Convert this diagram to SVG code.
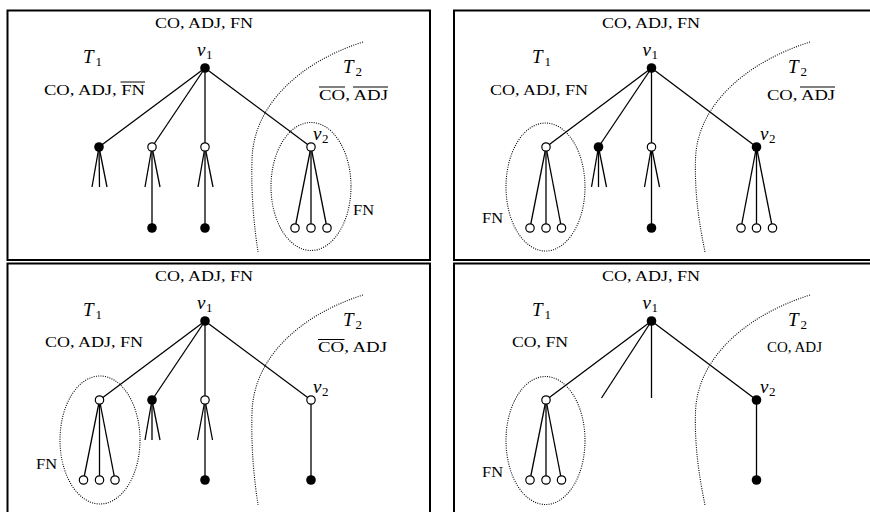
<svg xmlns="http://www.w3.org/2000/svg" width="870" height="512" viewBox="0 0 870 512">
<style>
.frame{fill:none;stroke:#000;stroke-width:2}
.e{stroke:#000;stroke-width:1.3;fill:none}
.dot{fill:none;stroke:#000;stroke-width:1.1;stroke-dasharray:1 1.3}
.f{fill:#000}
.o{fill:#fff;stroke:#000;stroke-width:1.2}
.lbl{font-family:"Liberation Serif",serif;font-size:14px;fill:#000}
.m{font-family:"Liberation Serif",serif;font-size:19px;font-style:italic;fill:#000}
.sub{font-size:13px;font-style:normal}
.ov{stroke:#000;stroke-width:1}
</style>
<rect x="0" y="0" width="870" height="512" fill="#fff"/>

<!-- Panel 1 -->
<g id="panel1">
<rect class="frame" x="7.5" y="10.5" width="422.5" height="249.5"/>
<g id="p1-connectors">
<path class="dot" d="M363,42 C300,62 253,105 252,160 C251,195 254,225 258,252"/>
<ellipse class="dot" cx="311" cy="186.5" rx="40" ry="64"/>
<line class="e" x1="205" y1="68" x2="99" y2="147"/>
<line class="e" x1="205" y1="68" x2="152" y2="147"/>
<line class="e" x1="205" y1="68" x2="205" y2="147"/>
<line class="e" x1="205" y1="68" x2="311" y2="147"/>
<line class="e" x1="99" y1="147" x2="92" y2="187"/>
<line class="e" x1="99" y1="147" x2="99.5" y2="187"/>
<line class="e" x1="99" y1="147" x2="107" y2="187"/>
<line class="e" x1="152" y1="147" x2="145" y2="187"/>
<line class="e" x1="152" y1="147" x2="160" y2="187"/>
<line class="e" x1="152" y1="147" x2="152" y2="228"/>
<line class="e" x1="205" y1="147" x2="198" y2="187"/>
<line class="e" x1="205" y1="147" x2="213" y2="187"/>
<line class="e" x1="205" y1="147" x2="205" y2="228"/>
<line class="e" x1="311" y1="147" x2="295" y2="228"/>
<line class="e" x1="311" y1="147" x2="311" y2="228"/>
<line class="e" x1="311" y1="147" x2="327" y2="228"/>
</g>
<g id="p1-v1"><circle class="f" cx="205" cy="68" r="4.8"/><text class="m" x="197" y="56">v<tspan class="sub" dx="0.5" dy="3">1</tspan></text></g>
<g id="p1-c1"><circle class="f" cx="99" cy="147" r="4.8"/></g>
<g id="p1-c2"><circle class="o" cx="152" cy="147" r="4.2"/></g>
<g id="p1-c3"><circle class="o" cx="205" cy="147" r="4.2"/></g>
<g id="p1-v2"><circle class="o" cx="311" cy="147" r="4.2"/><text class="m" x="313" y="140">v<tspan class="sub" dx="0.5" dy="3">2</tspan></text></g>
<g id="p1-l1"><circle class="f" cx="152" cy="228" r="4.8"/></g>
<g id="p1-l2"><circle class="f" cx="205" cy="228" r="4.8"/></g>
<g id="p1-l3"><circle class="o" cx="295" cy="228" r="4.2"/></g>
<g id="p1-l4"><circle class="o" cx="311" cy="228" r="4.2"/></g>
<g id="p1-l5"><circle class="o" cx="327" cy="228" r="4.2"/></g>
<g id="p1-labels">
<text class="lbl" x="155" y="28" textLength="98" lengthAdjust="spacingAndGlyphs">CO, ADJ, FN</text>
<text class="m" x="83" y="63">T<tspan class="sub" dx="2" dy="3">1</tspan></text>
<text class="lbl" x="44" y="94.5" textLength="101" lengthAdjust="spacingAndGlyphs">CO, ADJ, FN</text>
<line class="ov" x1="120.5" y1="82" x2="145" y2="82"/>
<text class="m" x="343" y="73">T<tspan class="sub" dx="2" dy="3">2</tspan></text>
<text class="lbl" x="319" y="99.5" textLength="69" lengthAdjust="spacingAndGlyphs">CO, ADJ</text>
<line class="ov" x1="319" y1="87" x2="345" y2="87"/>
<line class="ov" x1="353" y1="87" x2="388" y2="87"/>
<text class="lbl" x="353" y="215" textLength="21" lengthAdjust="spacingAndGlyphs">FN</text>
</g>
</g>

<!-- Panel 2 -->
<g id="panel2" transform="translate(446.5,0)">
<rect class="frame" x="7.5" y="10.5" width="440" height="249.5"/>
<g id="p2-connectors">
<path class="dot" d="M363.5,42 C300,62 250,105 249,160 C248,195 253,225 258.5,252"/>
<ellipse class="dot" cx="99" cy="187" rx="39.5" ry="64"/>
<line class="e" x1="205" y1="68" x2="99.5" y2="147"/>
<line class="e" x1="205" y1="68" x2="152" y2="147"/>
<line class="e" x1="205" y1="68" x2="205" y2="147"/>
<line class="e" x1="205" y1="68" x2="310" y2="147"/>
<line class="e" x1="99.5" y1="147" x2="83.5" y2="228"/>
<line class="e" x1="99.5" y1="147" x2="99.5" y2="228"/>
<line class="e" x1="99.5" y1="147" x2="115" y2="228"/>
<line class="e" x1="152" y1="147" x2="145" y2="187"/>
<line class="e" x1="152" y1="147" x2="152" y2="187"/>
<line class="e" x1="152" y1="147" x2="160" y2="187"/>
<line class="e" x1="205" y1="147" x2="198" y2="187"/>
<line class="e" x1="205" y1="147" x2="213" y2="187"/>
<line class="e" x1="205" y1="147" x2="205" y2="228"/>
<line class="e" x1="310" y1="147" x2="294.5" y2="228"/>
<line class="e" x1="310" y1="147" x2="310" y2="228"/>
<line class="e" x1="310" y1="147" x2="326" y2="228"/>
</g>
<g id="p2-v1"><circle class="f" cx="205" cy="68" r="4.8"/><text class="m" x="196" y="56">v<tspan class="sub" dx="0.5" dy="3">1</tspan></text></g>
<g id="p2-c1"><circle class="o" cx="99.5" cy="147" r="4.2"/></g>
<g id="p2-c2"><circle class="f" cx="152" cy="147" r="4.8"/></g>
<g id="p2-c3"><circle class="o" cx="205" cy="147" r="4.2"/></g>
<g id="p2-v2"><circle class="f" cx="310" cy="147" r="4.8"/><text class="m" x="313.5" y="140">v<tspan class="sub" dx="0.5" dy="3">2</tspan></text></g>
<g id="p2-l1"><circle class="o" cx="83.5" cy="228" r="4.2"/></g>
<g id="p2-l2"><circle class="o" cx="99.5" cy="228" r="4.2"/></g>
<g id="p2-l3"><circle class="o" cx="115" cy="228" r="4.2"/></g>
<g id="p2-l4"><circle class="f" cx="205" cy="228" r="4.8"/></g>
<g id="p2-l5"><circle class="o" cx="294.5" cy="228" r="4.2"/></g>
<g id="p2-l6"><circle class="o" cx="310" cy="228" r="4.2"/></g>
<g id="p2-l7"><circle class="o" cx="326" cy="228" r="4.2"/></g>
<g id="p2-labels">
<text class="lbl" x="155.5" y="28" textLength="98" lengthAdjust="spacingAndGlyphs">CO, ADJ, FN</text>
<text class="m" x="85.5" y="63">T<tspan class="sub" dx="2" dy="3">1</tspan></text>
<text class="lbl" x="43.5" y="94.5" textLength="98" lengthAdjust="spacingAndGlyphs">CO, ADJ, FN</text>
<text class="m" x="341.5" y="73">T<tspan class="sub" dx="2" dy="3">2</tspan></text>
<text class="lbl" x="320.5" y="99.5" textLength="68" lengthAdjust="spacingAndGlyphs">CO, ADJ</text>
<line class="ov" x1="353.5" y1="87" x2="388.5" y2="87"/>
<text class="lbl" x="35.5" y="223" textLength="21" lengthAdjust="spacingAndGlyphs">FN</text>
</g>
</g>

<!-- Panel 3 -->
<g id="panel3" transform="translate(0,253)">
<rect class="frame" x="7.5" y="10.5" width="422.5" height="260"/>
<g id="p3-connectors">
<path class="dot" d="M363,42 C300,62 253,105 252,160 C251,195 254,225 258,252"/>
<ellipse class="dot" cx="100" cy="187" rx="40" ry="64"/>
<line class="e" x1="205" y1="68" x2="99.5" y2="147"/>
<line class="e" x1="205" y1="68" x2="152" y2="147"/>
<line class="e" x1="205" y1="68" x2="205" y2="147"/>
<line class="e" x1="205" y1="68" x2="311" y2="147"/>
<line class="e" x1="99.5" y1="147" x2="83.5" y2="227"/>
<line class="e" x1="99.5" y1="147" x2="99.5" y2="227"/>
<line class="e" x1="99.5" y1="147" x2="115" y2="227"/>
<line class="e" x1="152" y1="147" x2="145" y2="187"/>
<line class="e" x1="152" y1="147" x2="152" y2="187"/>
<line class="e" x1="152" y1="147" x2="160" y2="187"/>
<line class="e" x1="205" y1="147" x2="197.5" y2="187"/>
<line class="e" x1="205" y1="147" x2="212.5" y2="187"/>
<line class="e" x1="205" y1="147" x2="205" y2="227"/>
<line class="e" x1="311" y1="147" x2="311" y2="227"/>
</g>
<g id="p3-v1"><circle class="f" cx="205" cy="68" r="4.8"/><text class="m" x="197" y="56">v<tspan class="sub" dx="0.5" dy="3">1</tspan></text></g>
<g id="p3-c1"><circle class="o" cx="99.5" cy="147" r="4.2"/></g>
<g id="p3-c2"><circle class="f" cx="152" cy="147" r="4.8"/></g>
<g id="p3-c3"><circle class="o" cx="205" cy="147" r="4.2"/></g>
<g id="p3-v2"><circle class="o" cx="311" cy="147" r="4.2"/><text class="m" x="313" y="140">v<tspan class="sub" dx="0.5" dy="3">2</tspan></text></g>
<g id="p3-l1"><circle class="o" cx="83.5" cy="227" r="4.2"/></g>
<g id="p3-l2"><circle class="o" cx="99.5" cy="227" r="4.2"/></g>
<g id="p3-l3"><circle class="o" cx="115" cy="227" r="4.2"/></g>
<g id="p3-l4"><circle class="f" cx="205" cy="227" r="4.8"/></g>
<g id="p3-l5"><circle class="f" cx="311" cy="227" r="4.8"/></g>
<g id="p3-labels">
<text class="lbl" x="155" y="28" textLength="98" lengthAdjust="spacingAndGlyphs">CO, ADJ, FN</text>
<text class="m" x="83" y="63">T<tspan class="sub" dx="2" dy="3">1</tspan></text>
<text class="lbl" x="45" y="94" textLength="98" lengthAdjust="spacingAndGlyphs">CO, ADJ, FN</text>
<text class="m" x="343" y="73">T<tspan class="sub" dx="2" dy="3">2</tspan></text>
<text class="lbl" x="318" y="99" textLength="69" lengthAdjust="spacingAndGlyphs">CO, ADJ</text>
<line class="ov" x1="318" y1="86.5" x2="344.5" y2="86.5"/>
<text class="lbl" x="36" y="216" textLength="21" lengthAdjust="spacingAndGlyphs">FN</text>
</g>
</g>

<!-- Panel 4 -->
<g id="panel4" transform="translate(446.5,253)">
<rect class="frame" x="7.5" y="10.5" width="440" height="260"/>
<g id="p4-connectors">
<path class="dot" d="M363.5,42 C300,62 250,105 249,160 C248,195 253,225 258.5,252"/>
<ellipse class="dot" cx="99" cy="187.5" rx="39.5" ry="64"/>
<line class="e" x1="205" y1="68" x2="99.5" y2="147"/>
<line class="e" x1="205" y1="68" x2="155" y2="145"/>
<line class="e" x1="205" y1="68" x2="205" y2="145"/>
<line class="e" x1="205" y1="68" x2="310" y2="147"/>
<line class="e" x1="99.5" y1="147" x2="83.5" y2="227"/>
<line class="e" x1="99.5" y1="147" x2="99.5" y2="227"/>
<line class="e" x1="99.5" y1="147" x2="115" y2="227"/>
<line class="e" x1="310" y1="147" x2="310" y2="227"/>
</g>
<g id="p4-v1"><circle class="f" cx="205" cy="68" r="4.8"/><text class="m" x="196" y="56">v<tspan class="sub" dx="0.5" dy="3">1</tspan></text></g>
<g id="p4-c1"><circle class="o" cx="99.5" cy="147" r="4.2"/></g>
<g id="p4-v2"><circle class="f" cx="310" cy="147" r="4.8"/><text class="m" x="313.5" y="140">v<tspan class="sub" dx="0.5" dy="3">2</tspan></text></g>
<g id="p4-l1"><circle class="o" cx="83.5" cy="227" r="4.2"/></g>
<g id="p4-l2"><circle class="o" cx="99.5" cy="227" r="4.2"/></g>
<g id="p4-l3"><circle class="o" cx="115" cy="227" r="4.2"/></g>
<g id="p4-l4"><circle class="f" cx="310" cy="227" r="4.8"/></g>
<g id="p4-labels">
<text class="lbl" x="155.5" y="28" textLength="98" lengthAdjust="spacingAndGlyphs">CO, ADJ, FN</text>
<text class="m" x="85.5" y="63">T<tspan class="sub" dx="2" dy="3">1</tspan></text>
<text class="lbl" x="65.5" y="94" textLength="56" lengthAdjust="spacingAndGlyphs">CO, FN</text>
<text class="m" x="341.5" y="73">T<tspan class="sub" dx="2" dy="3">2</tspan></text>
<text class="lbl" x="320.5" y="99" textLength="55" lengthAdjust="spacingAndGlyphs">CO, ADJ</text>
<text class="lbl" x="35.5" y="224" textLength="21" lengthAdjust="spacingAndGlyphs">FN</text>
</g>
</g>
</svg>
